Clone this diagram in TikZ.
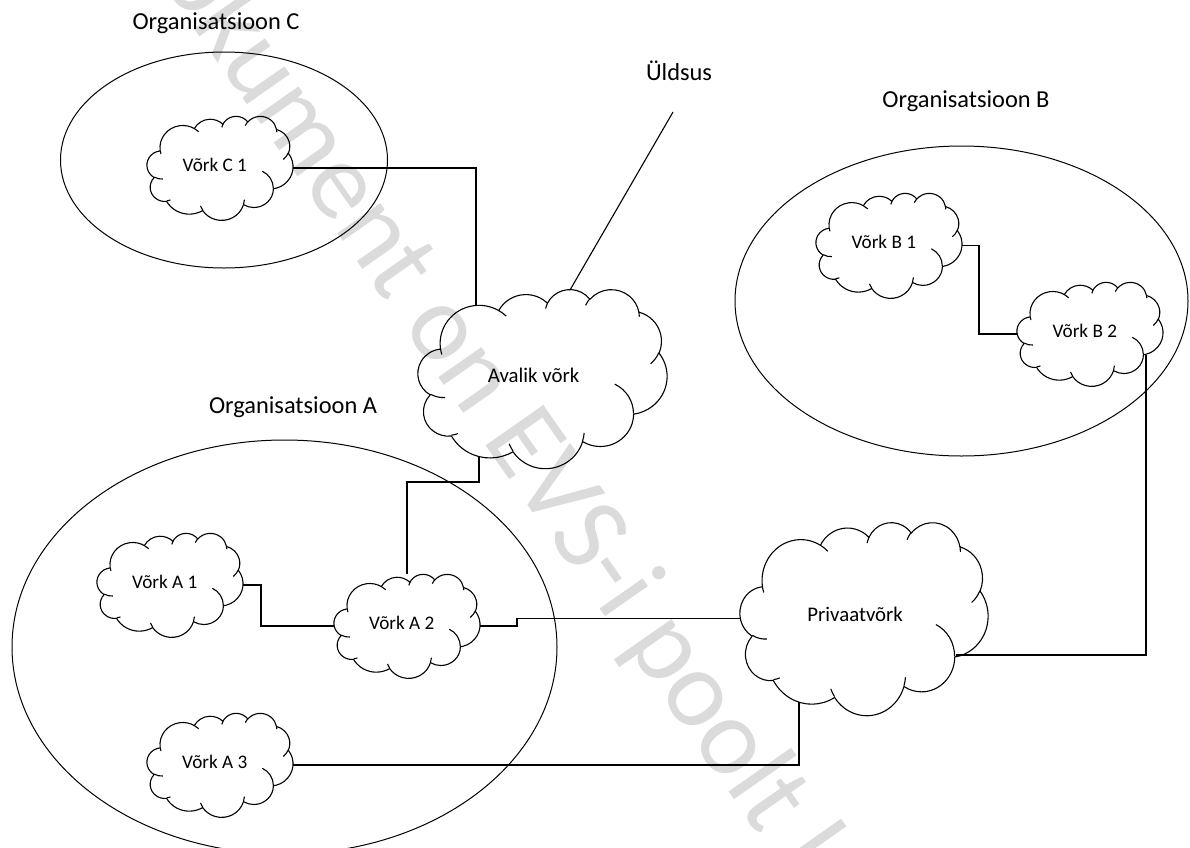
\documentclass[tikz,border=0pt]{standalone}
\usepackage{fontspec}
\setmainfont{Carlito}
\usetikzlibrary{calc}
\definecolor{wmgray}{RGB}{219,219,219}
\tikzset{
  orgell/.style={draw=black, line width=0.5pt},
  conn/.style={draw=black, line width=0.55pt},
  cloudline/.style={draw=black, line width=0.55pt, line join=round},
  cloudbox/.style={rectangle, inner sep=0pt, outer sep=0pt, draw=none},
  orglabel/.style={font=\fontsize{12.2}{14}\selectfont, anchor=base, inner sep=0pt},
  smalltxt/.style={font=\fontsize{9.6}{11}\selectfont, anchor=base, inner sep=0pt},
  bigtxt/.style={font=\fontsize{10.4}{12}\selectfont, anchor=base, inner sep=0pt},
  wmstyle/.style={text=wmgray, font=\fontsize{55}{60}\selectfont, inner sep=0pt},
}
% #1 name, #2 left, #3 top, #4 width, #5 height (px), #6 text style, #7 baseline (in 432 units), #8 text
\newcommand\netcloud[8]{%
  \pgfmathsetmacro\cux{#4*0.5/432}%
  \pgfmathsetmacro\cuy{#5*0.5/432}%
  \pgfmathsetmacro\cbw{#4*0.5}%
  \pgfmathsetmacro\cbh{#5*0.5}%
  \node[cloudbox, minimum width=\cbw pt, minimum height=\cbh pt, anchor=north west] (#1) at (#2,#3) {};
  \begin{scope}[shift={(#2,#3)}, x=\cux pt, y=-\cuy pt]
    \draw[cloudline] (39.00,143.70)
      arc[x radius=67.53, y radius=91.90, start angle=172.26, delta angle=128.12]
      arc[x radius=53.33, y radius=72.67, start angle=-152.02, delta angle=106.59]
      arc[x radius=43.65, y radius=59.45, start angle=-153.48, delta angle=116.16]
      arc[x radius=48.57, y radius=65.95, start angle=-139.69, delta angle=129.48]
      arc[x radius=53.33, y radius=72.73, start angle=-74.77, delta angle=97.98]
      arc[x radius=67.75, y radius=92.20, start angle=-37.53, delta angle=119.39]
      arc[x radius=57.85, y radius=78.67, start angle=0.46, delta angle=121.52]
      arc[x radius=67.52, y radius=92.15, start angle=16.84, delta angle=129.40]
      arc[x radius=77.20, y radius=105.43, start angle=58.99, delta angle=91.20]
      arc[x radius=43.60, y radius=59.18, start angle=83.31, delta angle=139.82]
      arc[x radius=43.45, y radius=59.45, start angle=120.36, delta angle=143.75]
      -- cycle;
    \draw[cloudline]
      (46.93,261.77) arc[x radius=43.45, y radius=59.45, start angle=85.55, delta angle=34.81]
      (69.28,348.99) arc[x radius=43.60, y radius=59.18, start angle=68.23, delta angle=15.07]
      (164.78,390.90) arc[x radius=67.52, y radius=92.15, start angle=146.24, delta angle=12.23]
      (288.27,347.51) arc[x radius=67.52, y radius=92.15, start angle=4.74, delta angle=12.10]
      (341.29,229.54) arc[x radius=57.85, y radius=78.67, start angle=-64.03, delta angle=64.49]
      (417.98,153.54) arc[x radius=53.33, y radius=72.73, start angle=23.21, delta angle=26.42]
      (383.24,54.26) arc[x radius=48.57, y radius=65.95, start angle=-10.21, delta angle=11.03]
      (290.78,39.52) arc[x radius=48.57, y radius=65.95, start angle=-156.29, delta angle=16.60]
      (221.41,47.20) arc[x radius=43.65, y radius=59.45, start angle=-167.73, delta angle=14.25]
      (140.00,51.92) arc[x radius=67.53, y radius=91.90, start angle=-59.63, delta angle=13.92]
      (41.27,157.89) arc[x radius=67.53, y radius=91.90, start angle=163.19, delta angle=9.06];
    \node[#6] (#1-t) at (200.6,#7) {#8};
  \end{scope}
}
\begin{document}
\begin{tikzpicture}[x=0.5pt, y=-0.5pt]
  \fill[white] (0,0) rectangle (1190,847);
  \useasboundingbox (0,0) rectangle (1190,847);

  % watermark
  \node[wmstyle, rotate=-55, anchor=base west] (wm) at (118,-80) {\textcolor{wmgray}{Dokument on EVS-i poolt loodud}};

  % organisations
  \draw[orgell] (224,160) ellipse [x radius=163.5, y radius=108];
  \draw[orgell] (961.5,301) ellipse [x radius=226.5, y radius=155];
  \draw[orgell] (284.5,647) ellipse [x radius=272.5, y radius=207];

  \node[orglabel] (orgC) at (216,29) {Organisatsioon C};
  \node[orglabel] (orgB) at (966,107) {Organisatsioon B};
  \node[orglabel] (orgA) at (293,413) {Organisatsioon A};
  \node[orglabel] (uldsus) at (679,80) {Üldsus};

  % clouds
  \netcloud{C1}{147}{116}{146}{104}{smalltxt}{228.5}{Võrk C 1}
  \netcloud{B1}{816}{193}{146}{105}{smalltxt}{228.5}{Võrk B 1}
  \netcloud{B2}{1017}{282}{146}{104}{smalltxt}{228.5}{Võrk B 2}
  \netcloud{A1}{97}{533}{146}{104}{smalltxt}{228.5}{Võrk A 1}
  \netcloud{A2}{334}{574}{146}{104}{smalltxt}{228.5}{Võrk A 2}
  \netcloud{A3}{147}{713}{146}{104}{smalltxt}{228.5}{Võrk A 3}
  \netcloud{AV}{418}{289}{249}{179}{bigtxt}{226.8}{Avalik võrk}
  \netcloud{PR}{740}{522}{248}{193}{bigtxt}{223.8}{Privaatvõrk}

  % connection points on cloud outlines
  \coordinate (AVtl) at ($(AV.north west)+(58,16)$);
  \coordinate (AVt)  at ($(AV.north west)+(152,1)$);
  \coordinate (AVb)  at ($(AV.north west)+(61,168)$);
  \coordinate (B2b)  at ($(B2.north west)+(129,73)$);
  \coordinate (PRr)  at ($(PR.north west)+(216,133)$);
  \coordinate (PRb)  at ($(PR.north west)+(59,180)$);
  \coordinate (uldEnd) at (673,112);

  % connectors
  \draw[conn] (uldEnd) -- (AVt);
  \draw[conn] (C1.east) -| (AVtl);
  \draw[conn] (B1.east) -- ++(17,0) |- (B2.west);
  \draw[conn] (A1.east) -- ++(18,0) |- (A2.west);
  \draw[conn] (A2.north) -- ++(0,-92) -| (AVb);
  \draw[conn] (A2.east) -- ++(37,0) |- (PR.west);
  \draw[conn] (A3.east) -| (PRb);
  \draw[conn] (B2b) |- (PRr);
\end{tikzpicture}
\end{document}
